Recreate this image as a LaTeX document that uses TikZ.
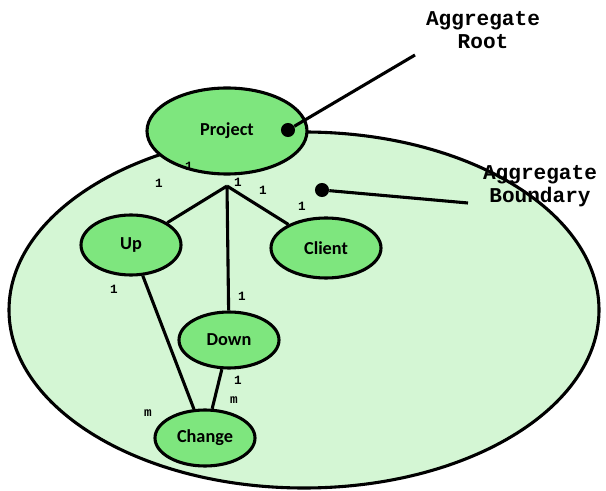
\documentclass[tikz,border=0pt]{standalone}
\usepackage{fontspec}
\setmainfont{Carlito}
\newfontfamily\monofont{Liberation Mono}
\usetikzlibrary{shapes.geometric}
\definecolor{nodegreen}{RGB}{126,230,126}
\definecolor{boundgreen}{RGB}{212,246,212}
\tikzset{%
  entity/.style={ellipse,draw=black,line width=2.2pt,fill=nodegreen,
    font=\bfseries\fontsize{13}{15}\selectfont,inner sep=0pt},
  mult/.style={font=\monofont\bfseries\fontsize{9}{10}\selectfont,inner sep=0pt},
  callout/.style={font=\monofont\bfseries\fontsize{15}{16}\selectfont,align=center},
  dot/.style={circle,fill=black,inner sep=0pt,minimum size=10pt},
  link/.style={line width=2.2pt}
}
\begin{document}
\begin{tikzpicture}[x=0.025cm,y=-0.025cm]
\useasboundingbox (0,0) rectangle (606,491);
%% boundary
\draw[link,fill=boundgreen] (304,310) ellipse (295 and 178);
%% entities
\node[entity,minimum width=160*0.025cm,minimum height=86*0.025cm] (project) at (227,131) {Project};
\node[entity,minimum width=100*0.025cm,minimum height=60*0.025cm] (up) at (131,245) {Up};
\node[entity,minimum width=110*0.025cm,minimum height=60*0.025cm] (client) at (326,248) {Client};
\node[entity,minimum width=100*0.025cm,minimum height=56*0.025cm] (down) at (229,340) {Down};
\node[entity,minimum width=100*0.025cm,minimum height=56*0.025cm] (change) at (205,438) {Change};
%% associations
\coordinate (hub) at (227,186);
\draw[link] (hub) -- (up);
\draw[link] (hub) -- (down);
\draw[link] (hub) -- (client);
\draw[link] (up) -- (change);
\draw[link] (down) -- (change);
%% multiplicities
\node[mult] (m1) at (189,166) {1};
\node[mult] (m2) at (159,183) {1};
\node[mult] (m3) at (238,182) {1};
\node[mult] (m4) at (263,190) {1};
\node[mult] (m5) at (302,206) {1};
\node[mult] (m6) at (114,289) {1};
\node[mult] (m7) at (242,296) {1};
\node[mult] (m8) at (238,380) {1};
\node[mult] (m9) at (234,400) {m};
\node[mult] (m10) at (148,413) {m};
%% callouts
\node[callout] (root) at (483,30) {Aggregate\\Root};
\node[callout] (bound) at (540,186) {Aggregate\\Boundary};
\node[dot] (rootdot) at (288,130) {};
\node[dot] (bounddot) at (322,190) {};
\coordinate (rootend) at (415,55);
\coordinate (boundend) at (468,203);
\draw[link] (rootend) -- (rootdot);
\draw[link] (boundend) -- (bounddot);
\end{tikzpicture}
\end{document}
